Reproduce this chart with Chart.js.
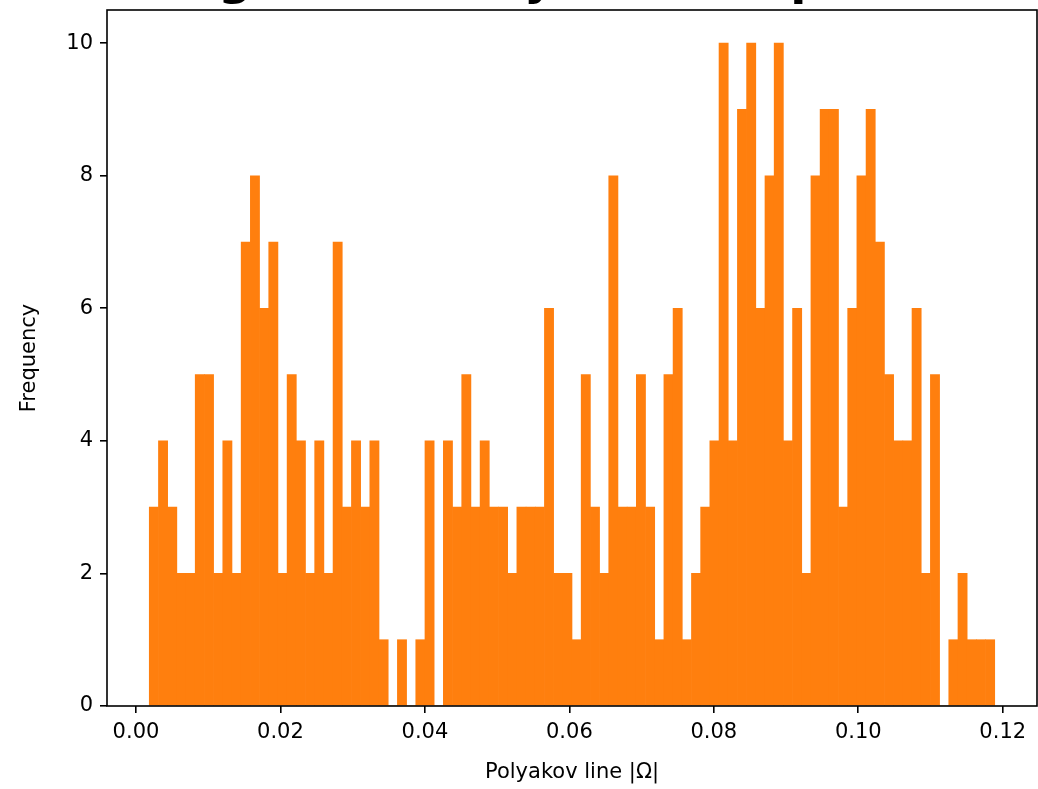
<!DOCTYPE html>
<html>
<head>
<meta charset="utf-8">
<script src="https://cdn.jsdelivr.net/npm/chart.js@4"></script>
<style>
  html, body { margin: 0; padding: 0; background: #fff; }
  #chart { display: block; }
</style>
</head>
<body>
<canvas id="chart" width="1038" height="789"></canvas>
<script>
// histogram bins: first left edge and bin width (uniform bins, like np.histogram)
const binStart = 0.00184;
const binWidth = 0.0012723;

// counts per bin (92 bins)
const counts = [
  3, 4, 3, 2, 2, 5, 5, 2, 4, 2,
  7, 8, 6, 7, 2, 5, 4, 2, 4, 2,
  7, 3, 4, 3, 4, 1, 0, 1, 0, 1,
  4, 0, 4, 3, 5, 3, 4, 3, 3, 2,
  3, 3, 3, 6, 2, 2, 1, 5, 3, 2,
  8, 3, 3, 5, 3, 1, 5, 6, 1, 2,
  3, 4, 10, 4, 9, 10, 6, 8, 10, 4,
  6, 2, 8, 9, 9, 3, 6, 8, 9, 7,
  5, 4, 4, 6, 2, 5, 0, 1, 2, 1,
  1, 1
];

const xTicks = [0.0, 0.02, 0.04, 0.06, 0.08, 0.10, 0.12];
const yTicks = [0, 2, 4, 6, 8, 10];

const titleText = "Histogram of Polyakov Loop Modulus";
const xLabel = "Polyakov line |Ω|";
const yLabel = "Frequency";

// bin centres -> points for the bar dataset
const points = counts.map((c, i) => ({ x: binStart + (i + 0.5) * binWidth, y: c }));

// axis range with matplotlib's 5% margin
const dataMin = binStart;
const dataMax = binStart + counts.length * binWidth;
const margin = (dataMax - dataMin) * 0.05;

const font = "'DejaVu Sans', sans-serif";

// frame (all four spines) + title that is mostly cut off above the figure
const framePlugin = {
  id: "frame",
  afterDatasetsDraw(chart) {
    const { ctx, chartArea: a } = chart;
    ctx.save();
    ctx.strokeStyle = "#000";
    ctx.lineWidth = 1.6;
    ctx.strokeRect(a.left, a.top, a.right - a.left, a.bottom - a.top);
    ctx.restore();
  },
  afterDraw(chart) {
    const { ctx, chartArea: a } = chart;
    ctx.save();
    ctx.fillStyle = "#000";
    ctx.font = "bold 47px " + font;
    ctx.textAlign = "center";
    ctx.textBaseline = "alphabetic";
    ctx.fillText(titleText, (a.left + a.right) / 2, -6);
    ctx.restore();
  }
};

const ctx = document.getElementById("chart").getContext("2d");

new Chart(ctx, {
  type: "bar",
  data: {
    datasets: [
      {
        data: points,
        backgroundColor: "#ff7f0e",
        borderWidth: 0,
        barPercentage: 1.0,
        categoryPercentage: 1.0,
      },
    ],
  },
  options: {
    responsive: false,
    animation: false,
    devicePixelRatio: 1,
    layout: { padding: { top: 10, right: 1, left: 0, bottom: 0 } },
    plugins: {
      legend: { display: false },
      tooltip: { enabled: false },
    },
    scales: {
      x: {
        type: "linear",
        offset: false,
        min: dataMin - margin,
        max: dataMax + margin,
        afterFit(scale) {
          scale.height = 83;
          scale.paddingLeft = 0;
          scale.paddingRight = 0;
        },
        afterBuildTicks(scale) { scale.ticks = xTicks.map((v) => ({ value: v })); },
        grid: {
          offset: false,
          drawOnChartArea: false,
          drawTicks: true,
          tickLength: 7,
          color: "#000",
          lineWidth: 1.6,
        },
        border: { display: false },
        ticks: {
          color: "#000",
          font: { family: font, size: 21 },
          padding: 7,
          maxRotation: 0,
          autoSkip: false,
          callback: (v) => v.toFixed(2),
        },
        title: {
          display: true,
          text: xLabel,
          color: "#000",
          font: { family: font, size: 21 },
          padding: { top: 0, bottom: 4 },
        },
      },
      y: {
        min: 0,
        max: 10.5,
        afterFit(scale) {
          scale.width = 107;
          scale.paddingTop = 0;
          scale.paddingBottom = 0;
        },
        afterBuildTicks(scale) { scale.ticks = yTicks.map((v) => ({ value: v })); },
        grid: {
          drawOnChartArea: false,
          drawTicks: true,
          tickLength: 7,
          color: "#000",
          lineWidth: 1.6,
        },
        border: { display: false },
        ticks: {
          color: "#000",
          font: { family: font, size: 21 },
          padding: 7,
          callback: (v) => String(v),
        },
        title: {
          display: true,
          text: yLabel,
          color: "#000",
          font: { family: font, size: 21 },
          padding: { top: 17, bottom: 0 },
        },
      },
    },
  },
  plugins: [framePlugin],
});
</script>
</body>
</html>
